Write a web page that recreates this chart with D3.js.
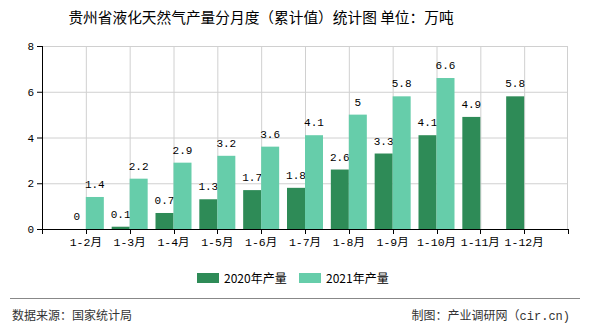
<!DOCTYPE html>
<html><head><meta charset="utf-8">
<script src="https://cdn.jsdelivr.net/npm/d3@7"></script>
<style>body{margin:0;background:#fff}svg{display:block}</style>
</head><body>
<svg id="c" width="590" height="330"></svg>
<script>
const categories = ["1-2月","1-3月","1-4月","1-5月","1-6月","1-7月","1-8月","1-9月","1-10月","1-11月","1-12月"];
const series2020 = [0,0.1,0.7,1.3,1.7,1.8,2.6,3.3,4.1,4.9,5.8];
const series2021 = [1.4,2.2,2.9,3.2,3.6,4.1,5,5.8,6.6,null,null];
const seriesNames = ["2020年产量","2021年产量"];
const colors = ["#2e8b57","#66cdaa"];
const yTicks = [0,2,4,6,8];

const svg = d3.select("#c");
const L = 42, R = 568, T = 46, B = 229;
const mono = "'Liberation Mono','DejaVu Sans Mono','Noto Sans CJK SC',monospace";
const cjk = "'Noto Sans CJK SC','Liberation Sans',sans-serif";

const x = d3.scalePoint().domain(categories).range([L, R]).padding(1);
const y = d3.scaleLinear().domain([0, 8]).range([B, T]);
const bw = 18;

// title
svg.append("text").attr("x", 261).attr("y", 23).attr("text-anchor", "middle")
  .attr("font-family", cjk).attr("font-size", 14.7).attr("fill", "#000")
  .text("贵州省液化天然气产量分月度（累计值）统计图 单位：万吨");

// grid
const g = svg.append("g");
g.selectAll(".hg").data(yTicks.filter(d => d > 0)).join("line")
  .attr("x1", L).attr("x2", R).attr("y1", d => y(d) + 0.5).attr("y2", d => y(d) + 0.5)
  .attr("stroke", "#d0d0d0");
g.selectAll(".vg").data(categories).join("line")
  .attr("x1", d => x(d) + 0.5).attr("x2", d => x(d) + 0.5).attr("y1", T).attr("y2", B)
  .attr("stroke", "#d0d0d0");
g.append("line").attr("x1", R - 0.5).attr("x2", R - 0.5).attr("y1", T).attr("y2", B).attr("stroke", "#d0d0d0");

// bars
const data = categories.map((c, i) => ({c, v: [series2020[i], series2021[i]]}));
[0, 1].forEach(s => {
  const vals = data.filter(d => d.v[s] !== null);
  svg.append("g").selectAll("rect").data(vals).join("rect")
    .attr("x", d => s === 0 ? x(d.c) - bw : x(d.c))
    .attr("width", bw)
    .attr("y", d => y(d.v[s]))
    .attr("height", d => B - y(d.v[s]))
    .attr("fill", colors[s]);
  svg.append("g").selectAll("text").data(vals).join("text")
    .attr("x", d => (s === 0 ? x(d.c) - bw / 2 : x(d.c) + bw / 2))
    .attr("y", d => y(d.v[s]) - 9)
    .attr("text-anchor", "middle")
    .attr("font-family", mono).attr("font-size", 11).attr("fill", "#000")
    .text(d => String(d.v[s]));
});

// axes
const xa = svg.append("g").attr("transform", `translate(0,${B})`);
xa.append("line").attr("x1", L).attr("x2", R).attr("y1", 0.5).attr("y2", 0.5).attr("stroke", "#000");
const xt = [L, ...categories.map(c => x(c)), R];
xa.selectAll(".t").data(xt).join("line")
  .attr("x1", d => Math.round(d) + 0.5).attr("x2", d => Math.round(d) + 0.5)
  .attr("y1", 0).attr("y2", 5).attr("stroke", "#000");
xa.selectAll("text").data(categories).join("text")
  .attr("x", d => x(d)).attr("y", 17).attr("text-anchor", "middle")
  .attr("font-family", mono).attr("font-size", 11.5).attr("fill", "#000")
  .text(d => d);

const ya = svg.append("g");
ya.append("line").attr("x1", L + 0.5).attr("x2", L + 0.5).attr("y1", T).attr("y2", B + 1).attr("stroke", "#000");
ya.selectAll(".t").data(yTicks).join("line")
  .attr("x1", L - 5).attr("x2", L).attr("y1", d => y(d) + 0.5).attr("y2", d => y(d) + 0.5).attr("stroke", "#000");
ya.selectAll("text").data(yTicks).join("text")
  .attr("x", L - 8).attr("y", d => y(d) + 4).attr("text-anchor", "end")
  .attr("font-family", mono).attr("font-size", 11).attr("fill", "#000")
  .text(d => d);

// legend
const lg = svg.append("g");
const lx = [197, 299];
seriesNames.forEach((n, i) => {
  lg.append("rect").attr("x", lx[i]).attr("y", 273).attr("width", 22).attr("height", 10).attr("fill", colors[i]);
  lg.append("text").attr("x", lx[i] + 27).attr("y", 282.5)
    .attr("font-family", cjk).attr("font-size", 12).attr("fill", "#000").text(n);
});

// footer
svg.append("line").attr("x1", 10).attr("x2", 580).attr("y1", 298.5).attr("y2", 298.5).attr("stroke", "#888");
svg.append("text").attr("x", 12).attr("y", 320).attr("font-family", cjk).attr("font-size", 12).attr("fill", "#333")
  .text("数据来源：国家统计局");
const ft = svg.append("text").attr("x", 570).attr("y", 320).attr("text-anchor", "end")
  .attr("font-family", cjk).attr("font-size", 12).attr("fill", "#333");
ft.append("tspan").text("制图：产业调研网（");
ft.append("tspan").attr("font-family", mono).text("cir.cn)");
</script>
</body></html>
